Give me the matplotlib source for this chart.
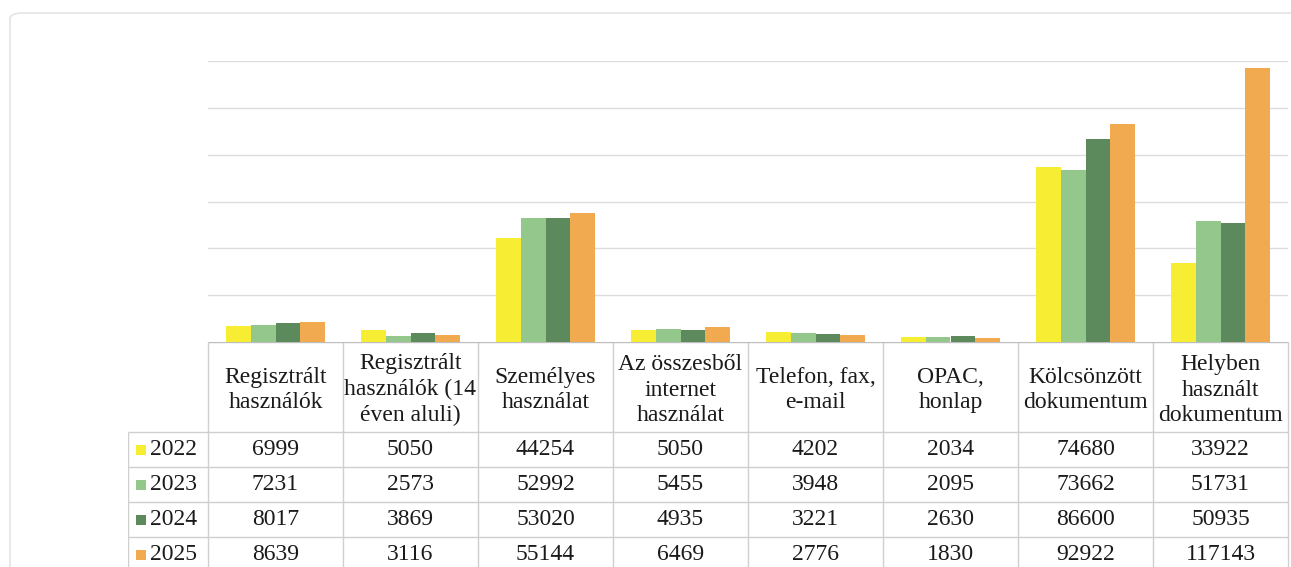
import matplotlib
matplotlib.use("Agg")
import matplotlib.pyplot as plt
from matplotlib.patches import Rectangle, FancyBboxPatch
import numpy as np

categories = ["Regisztrált\nhasználók", "Regisztrált\nhasználók (14\néven aluli)",
              "Személyes\nhasználat", "Az összesből\ninternet\nhasználat",
              "Telefon, fax,\ne-mail", "OPAC,\nhonlap", "Kölcsönzött\ndokumentum",
              "Helyben\nhasznált\ndokumentum"]
years = ["2022", "2023", "2024", "2025"]
v2022 = [6999, 5050, 44254, 5050, 4202, 2034, 74680, 33922]
v2023 = [7231, 2573, 52992, 5455, 3948, 2095, 73662, 51731]
v2024 = [8017, 3869, 53020, 4935, 3221, 2630, 86600, 50935]
v2025 = [8639, 3116, 55144, 6469, 2776, 1830, 92922, 117143]
series = [v2022, v2023, v2024, v2025]
colors = ["#F7EE33", "#93C78C", "#5D8A5D", "#F1AA4F"]

W, H = 1291, 567
fig = plt.figure(figsize=(W / 100, H / 100), dpi=100)
plt.rcParams['font.family'] = ['Liberation Serif', 'DejaVu Serif']

# outer frame
frame = FancyBboxPatch((10 / W, -0.05), (W + 20) / W, (H - 13) / H + 0.05,
                       boxstyle="round,pad=0,rounding_size=0.01",
                       transform=fig.transFigure, fill=False,
                       edgecolor="#e4e4e4", linewidth=1.2)
fig.patches.append(frame)

# bar axes
left_px, right_px = 208, 1288
base_px, top_px = 342, 61
ax = fig.add_axes([left_px / W, (H - base_px) / H, (right_px - left_px) / W,
                   (base_px - top_px) / H])
n = len(categories)
x = np.arange(n)
bw = 0.185
for i, (vals, c) in enumerate(zip(series, colors)):
    ax.bar(x + (i - 1.5) * bw, vals, width=bw, color=c, edgecolor='none', zorder=3)
ax.set_xlim(-0.5, n - 0.5)
ax.set_ylim(0, 120000)
ax.set_yticks(np.arange(20000, 120001, 20000))
ax.yaxis.grid(True, color="#dcdcdc", linewidth=1.0, zorder=0)
ax.tick_params(left=False, labelleft=False, bottom=False, labelbottom=False)
for s in ax.spines.values():
    s.set_visible(False)

# table axes
lab_px = 128
colw = (right_px - left_px) / n
lab_w = (left_px - lab_px) / colw
header_h, row_h = 90, 35
tab = fig.add_axes([lab_px / W, 0, (right_px + 2 - lab_px) / W, (H - base_px) / H])
tab.set_xlim(-0.5 - lab_w, n - 0.5 + 2 / colw)
tab.set_ylim(H - base_px, 0)
tab.axis('off')
lc = "#cfcfcf"
bottom = header_h + row_h * len(years) + 10
# vertical lines
for i in range(n + 1):
    tab.vlines(i - 0.5, 0, bottom, color=lc, linewidth=1.0)
tab.vlines(-0.5 - lab_w, header_h, bottom, color=lc, linewidth=1.0)
# horizontal lines
tab.hlines(0, -0.5, n - 0.5, color="#bdbdbd", linewidth=1.0)
for r in range(len(years)):
    tab.hlines(header_h + r * row_h, -0.5 - lab_w, n - 0.5, color=lc, linewidth=1.0)

fs = 17
for i, cat in enumerate(categories):
    tab.text(i, header_h / 2 + 3, cat, ha='center', va='center', fontsize=fs,
             color="#1a1a1a", linespacing=1.3)
for r, (yr, vals, c) in enumerate(zip(years, series, colors)):
    yc = header_h + r * row_h + row_h / 2
    x0 = -0.5 - lab_w
    tab.add_patch(Rectangle((x0 + 8 / colw, yc - 5), 10 / colw, 10,
                            facecolor=c, edgecolor='none'))
    tab.text(x0 + 22 / colw, yc, yr, ha='left', va='center', fontsize=fs,
             color="#1a1a1a")
    for i, v in enumerate(vals):
        tab.text(i, yc, str(v), ha='center', va='center', fontsize=fs,
                 color="#1a1a1a")

fig.savefig("out.png", dpi=100)
